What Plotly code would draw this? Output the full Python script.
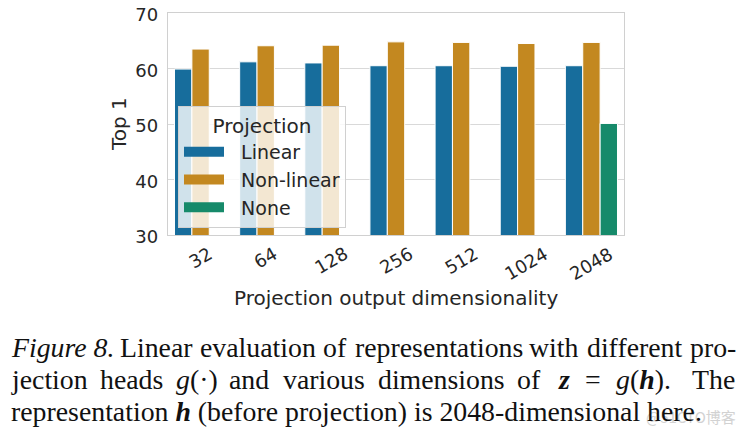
import plotly.graph_objects as go

# ---- data ----
dims = ["32", "64", "128", "256", "512", "1024", "2048"]
linear = [59.9, 61.2, 61.0, 60.5, 60.5, 60.4, 60.5]
nonlinear = [63.5, 64.1, 64.2, 64.8, 64.7, 64.5, 64.7]
none_proj = [None, None, None, None, None, None, 50.1]
series_names = ["Linear", "Non-linear", "None"]
y_ticks = [30, 40, 50, 60, 70]

# ---- geometry (page pixels; the page body has an 8px margin) ----
OFF = 8
PW, PH = 747, 436
W, H = PW - OFF, PH - OFF
PL, PR, PT, PB = 168, 624, 13, 235          # plot area in page pixels
L, R, T, B = PL - OFF, PR - OFF, PT - OFF, PB - OFF

colors = ["#176d9c", "#c38820", "#168a6a"]
TXT = "#262626"
SANS = "DejaVu Sans"
SERIF = "Liberation Serif"
NBSP = "\u00a0"

def px_x(px):
    return (px - PL) / (PR - PL)

def px_y(py):
    return (PB - py) / (PB - PT)

xpos = list(range(len(dims)))

fig = go.Figure()
for name, vals, col in zip(series_names, [linear, nonlinear, none_proj], colors):
    fig.add_trace(go.Bar(
        x=xpos, y=vals, name=name, showlegend=False,
        marker=dict(color=col, line=dict(color="white", width=1)),
    ))
# legend patches (wide rectangles like the reference)
for name, col in zip(series_names, colors):
    fig.add_trace(go.Scatter(
        x=[None], y=[None], mode="lines", name=NBSP * 2 + name,
        line=dict(color=col, width=11),
    ))

annotations = []
# rotated x tick labels, centred on each category
for i, d in enumerate(dims):
    annotations.append(dict(
        x=i, xref="x", y=0, yref="paper", yanchor="top", xanchor="center",
        yshift=-5, text=d, textangle=-30, showarrow=False,
        font=dict(family=SANS, size=18, color=TXT)))
# axis titles
annotations.append(dict(
    x=0.5, xref="paper", y=0, yref="paper", yshift=-(298 - PB), yanchor="middle",
    text="Projection output dimensionality", showarrow=False,
    font=dict(family=SANS, size=20, color=TXT)))
annotations.append(dict(
    x=0, xref="paper", xshift=-(PL - 119), xanchor="center", y=0.5, yref="paper",
    yanchor="middle", text="Top 1", textangle=-90, showarrow=False,
    font=dict(family=SANS, size=20, color=TXT)))

# watermark
annotations.append(dict(
    x=px_x(738), xref="paper", xanchor="right", y=px_y(416), yref="paper",
    yanchor="middle", text="@51CTO博客", showarrow=False,
    font=dict(family="Noto Sans CJK SC", size=15, color="#d2d2d2")))

# ---- caption, justified with approximate Times metrics ----
CAP_SIZE = 27.8
K = 0.98
tw = {' ': 250, 'a': 444, 'b': 500, 'c': 444, 'd': 500, 'e': 444, 'f': 333, 'g': 500,
      'h': 500, 'i': 278, 'j': 278, 'l': 278, 'm': 778, 'n': 500, 'o': 500, 'p': 500,
      'r': 333, 's': 389, 't': 278, 'u': 500, 'v': 500, 'w': 722, 'y': 500, 'z': 389,
      'T': 611, 'L': 611, 'F': 611, '(': 333, ')': 333, '.': 250, '-': 333, '·': 250,
      '=': 564, '8': 500}

def wwidth(s):
    return sum(tw.get(c, 500) for c in s) / 1000 * CAP_SIZE * K

cap_lines = [
    (347, 10, 734, [("<i>Figure 8.</i>", "Figure 8.", 1), ("Linear", "Linear", 1),
                    ("evaluation", "evaluation", 1), ("of", "of", 1),
                    ("representations", "representations", 1), ("with", "with", 1),
                    ("different", "different", 1), ("pro-", "pro-", 1)]),
    (379, 10, 733, [("jection", "jection", 1), ("heads", "heads", 1),
                    ("<i>g</i>(·)", "g(·)", 1), ("and", "and", 1),
                    ("various", "various", 1), ("dimensions", "dimensions", 1),
                    ("of", "of", 1), ("<b><i>z</i></b>", "z", 1.3), ("=", "=", 1.1),
                    ("<i>g</i>(<b><i>h</i></b>).", "g(h).", 1.1), ("The", "The", 1.6)]),
]
for cy, x0, x1, words in cap_lines:
    total = sum(wwidth(p) for _, p, _ in words)
    wsum = sum(w for _, _, w in words[1:])
    unit = (x1 - x0 - total) / wsum
    xp = x0
    for j, (mk, plain, wgt) in enumerate(words):
        if j > 0:
            xp += unit * wgt
        annotations.append(dict(
            x=px_x(xp), xref="paper", xanchor="left", y=px_y(cy), yref="paper",
            yanchor="middle", text=mk, showarrow=False, borderpad=0,
            font=dict(family=SERIF, size=CAP_SIZE, color="#111111")))
        xp += wwidth(plain)
annotations.append(dict(
    x=px_x(10), xref="paper", xanchor="left", y=px_y(411), yref="paper",
    yanchor="middle",
    text="representation <b><i>h</i></b> (before projection) is 2048-dimensional here.",
    showarrow=False, borderpad=0,
    font=dict(family=SERIF, size=CAP_SIZE, color="#111111")))

fig.update_layout(
    width=W, height=H,
    margin=dict(l=L, r=W - R, t=T, b=H - B, autoexpand=False),
    paper_bgcolor="white", plot_bgcolor="white",
    barmode="group", bargap=0.2, bargroupgap=0,
    showlegend=True,
    legend=dict(
        x=px_x(178), y=px_y(106), xanchor="left", yanchor="top",
        bgcolor="rgba(255,255,255,0.8)", bordercolor="#d0d0d0", borderwidth=1,
        font=dict(family=SANS, size=19, color=TXT),
        title=dict(text="Projection", side="top center",
                   font=dict(family=SANS, size=20, color=TXT)),
        itemwidth=40,
    ),
    xaxis=dict(range=[-0.5, len(dims) - 0.5], showticklabels=False, showgrid=False,
               zeroline=False, showline=True, mirror=True, linecolor="#d0d0d0",
               linewidth=1.3, ticks=""),
    yaxis=dict(range=[30, 70], tickvals=y_ticks, showgrid=True,
               gridcolor="#d9d9d9", gridwidth=1.2, zeroline=False,
               showline=True, mirror=True, linecolor="#d0d0d0", linewidth=1.3,
               ticks="outside", ticklen=5, tickcolor="rgba(0,0,0,0)",
               ticklabeloverflow="allow", ticklabelshift=2,
               tickfont=dict(family=SANS, size=18, color=TXT)),
    annotations=annotations,
)

fig.write_html("out.html")
